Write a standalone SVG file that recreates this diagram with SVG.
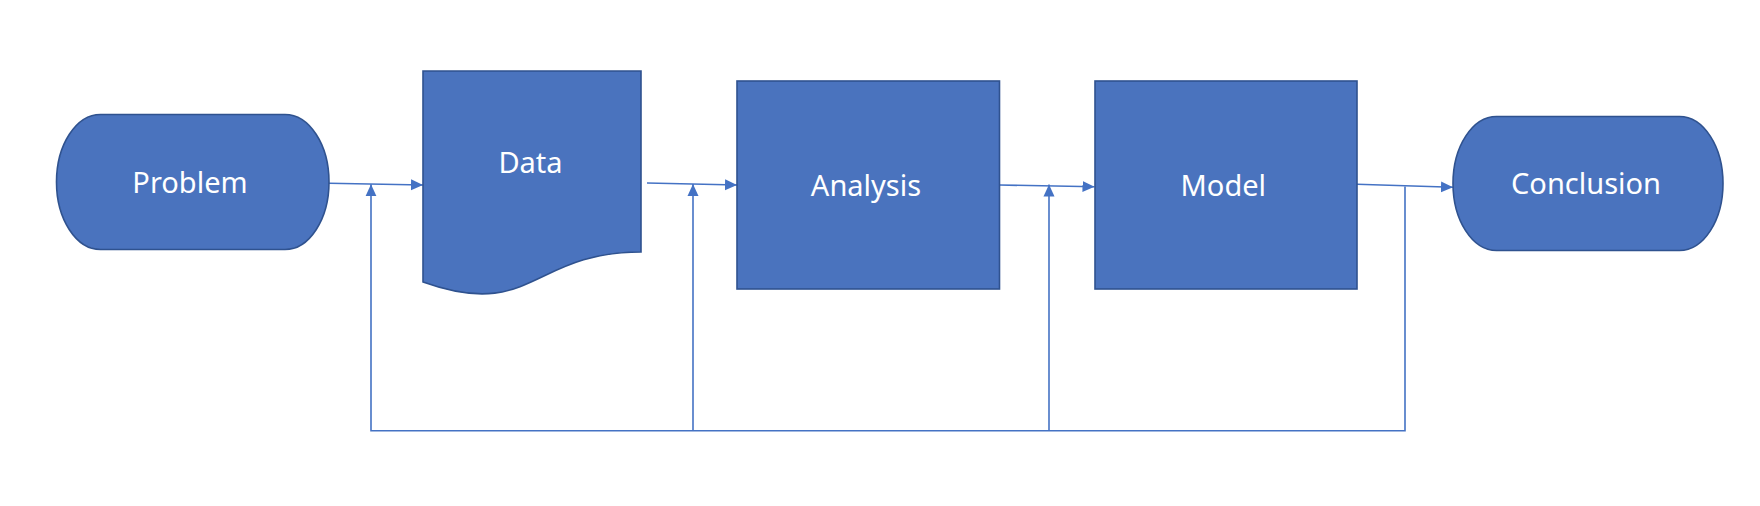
<svg xmlns="http://www.w3.org/2000/svg" width="1760" height="506" viewBox="0 0 1760 506">
  <style>
    .shape { fill: #4A73BE; stroke: #2F528F; stroke-width: 1.6; }
    .label { fill: #FFFFFF; font-family: "Noto Sans", "Open Sans", sans-serif; font-size: 29px; text-anchor: middle; }
    .conn { fill: none; stroke: #4472C4; stroke-width: 1.6; }
  </style>
  <defs>
    <marker id="arrow" markerUnits="userSpaceOnUse" markerWidth="12" markerHeight="12" refX="12" refY="6" orient="auto">
      <path d="M0,0.5 L12,6 L0,11.5 Z" fill="#4472C4"/>
    </marker>
  </defs>
  <rect width="1760" height="506" fill="#FFFFFF"/>

  <g id="connectors">
    <line class="conn" x1="329" y1="183.3" x2="423" y2="185" marker-end="url(#arrow)"/>
    <line class="conn" x1="647" y1="183" x2="737" y2="185" marker-end="url(#arrow)"/>
    <line class="conn" x1="999.5" y1="185" x2="1094.5" y2="186.7" marker-end="url(#arrow)"/>
    <line class="conn" x1="1357" y1="184.3" x2="1453" y2="187.3" marker-end="url(#arrow)"/>
    <path class="conn" d="M1405,186.5 V430.7 H371 V184.3" marker-end="url(#arrow)"/>
    <path class="conn" d="M693,430.7 V184" marker-end="url(#arrow)"/>
    <path class="conn" d="M1049,430.7 V184.5" marker-end="url(#arrow)"/>
  </g>

  <g id="problem">
    <rect class="shape" x="56.5" y="114.5" width="272.5" height="135" rx="44" ry="67.5"/>
    <text class="label" x="190" y="193.3">Problem</text>
  </g>

  <g id="data">
    <path class="shape" d="M423,71 H641 V252 C532,252 532,321 423,282 Z"/>
    <text class="label" x="530.5" y="172.7">Data</text>
  </g>

  <g id="analysis">
    <rect class="shape" x="737" y="81" width="262.5" height="208"/>
    <text class="label" x="866" y="195.7">Analysis</text>
  </g>

  <g id="model">
    <rect class="shape" x="1095" y="81" width="262" height="208"/>
    <text class="label" x="1223.3" y="195.7">Model</text>
  </g>

  <g id="conclusion">
    <rect class="shape" x="1453" y="116.5" width="270" height="134" rx="43.5" ry="67"/>
    <text class="label" x="1586" y="194">Conclusion</text>
  </g>
</svg>
